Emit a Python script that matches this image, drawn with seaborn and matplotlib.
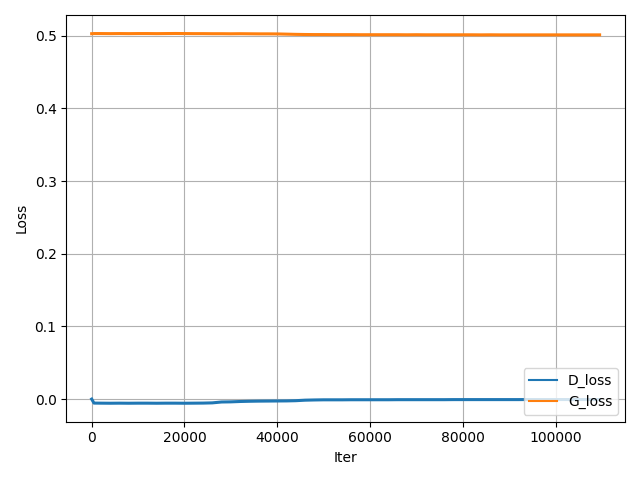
import pandas as pd
import matplotlib
matplotlib.use("Agg")
import matplotlib.pyplot as plt
import seaborn as sns

# sampled every 2000 iterations, plus the first drop and the last logged step
iters = [0, 500] + list(range(2000, 110000, 2000)) + [109500]

d_loss = [
    0.0, -0.0055,
    -0.0056, -0.0057, -0.0056, -0.0057, -0.0056, -0.0056,
    -0.0057, -0.0056, -0.0056, -0.0057, -0.0056, -0.0055,
    -0.0052, -0.0040, -0.0038,
    -0.0033, -0.0030, -0.0028, -0.0027, -0.0026, -0.0025,
    -0.0022, -0.0015, -0.0012,
    -0.0010, -0.0010, -0.0010, -0.0009, -0.0009, -0.0009,
    -0.0009, -0.0009, -0.0008, -0.0008, -0.0008, -0.0008,
    -0.0008, -0.0008, -0.0007, -0.0007, -0.0007, -0.0007,
    -0.0007, -0.0007, -0.0007, -0.0007, -0.0006, -0.0006,
    -0.0006, -0.0006, -0.0006, -0.0006, -0.0006, -0.0006,
    -0.0006,
]

g_loss = [
    0.5028, 0.5030,
    0.5030, 0.5029, 0.5030, 0.5029, 0.5030, 0.5030,
    0.5029, 0.5030, 0.5031, 0.5030, 0.5029, 0.5029, 0.5028,
    0.5028, 0.5027, 0.5028, 0.5027, 0.5026, 0.5026, 0.5025,
    0.5022, 0.5019, 0.5017, 0.5016, 0.5016, 0.5015, 0.5015,
    0.5015, 0.5014, 0.5014, 0.5014, 0.5014, 0.5014, 0.5013,
    0.5014, 0.5013, 0.5013, 0.5013, 0.5013, 0.5013, 0.5013,
    0.5012, 0.5013, 0.5012, 0.5012, 0.5012, 0.5012, 0.5012,
    0.5012, 0.5012, 0.5012, 0.5012, 0.5012, 0.5012,
    0.5012,
]

df = pd.DataFrame({
    "Iter": iters * 2,
    "Loss": d_loss + g_loss,
    "series": ["D_loss"] * len(iters) + ["G_loss"] * len(iters),
})

plt.figure(figsize=(6.4, 4.8), dpi=100)
ax = sns.lineplot(data=df, x="Iter", y="Loss", hue="series",
                  palette=["tab:blue", "tab:orange"], linewidth=2.2)
ax.grid(True)
ax.set_xlabel("Iter")
ax.set_ylabel("Loss")
leg = ax.legend(loc="lower right")
for line in leg.get_lines():
    line.set_linewidth(1.5)
plt.tight_layout()
plt.savefig("out.png", dpi=100)
